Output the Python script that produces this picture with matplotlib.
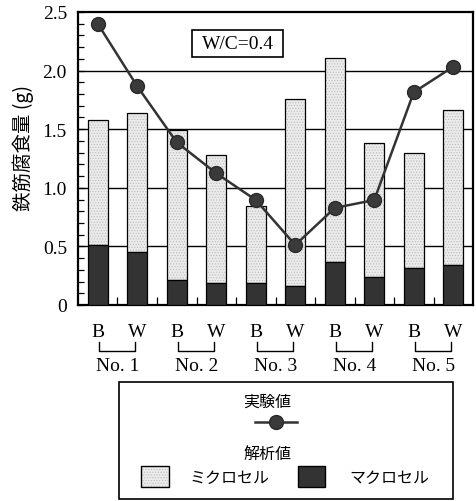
import matplotlib
matplotlib.use("Agg")
import matplotlib.pyplot as plt
import matplotlib.transforms as mtransforms
from matplotlib.patches import Rectangle
from matplotlib.lines import Line2D
import numpy as np

# Data
specimens = ["No. 1", "No. 2", "No. 3", "No. 4", "No. 5"]
bar_labels = ["B", "W", "B", "W", "B", "W", "B", "W", "B", "W"]
total_corrosion = [1.58, 1.635, 1.49, 1.277, 0.847, 1.758, 2.107, 1.38, 1.294, 1.664]
macrocell = [0.51, 0.455, 0.213, 0.19, 0.188, 0.165, 0.364, 0.236, 0.318, 0.344]
measured = [2.40, 1.866, 1.388, 1.124, 0.896, 0.512, 0.828, 0.896, 1.815, 2.033]
y_ticks = [0, 0.5, 1.0, 1.5, 2.0, 2.5]
y_tick_labels = ["0", "0.5", "1.0", "1.5", "2.0", "2.5"]

SERIF = ["Liberation Serif", "DejaVu Serif"]
CJK = ["Noto Sans CJK JP", "DejaVu Sans"]
LIGHT = "#ebebeb"
DOTS = "#bdbdbd"
DARK = "#333333"

plt.rcParams["hatch.linewidth"] = 0.5

W, H = 477, 502
fig = plt.figure(figsize=(W / 100, H / 100), dpi=100)
ax = fig.add_axes([78 / W, 1 - 306 / H, 395 / W, 293 / H])

x = np.arange(len(bar_labels))
microcell = [t - m for t, m in zip(total_corrosion, macrocell)]

# stippled microcell fill, then outlines on top
ax.bar(x, microcell, bottom=macrocell, width=0.5, color=LIGHT, edgecolor=DOTS,
       linewidth=0, hatch="......", zorder=3)
ax.bar(x, microcell, bottom=macrocell, width=0.5, fill=False, edgecolor="black",
       linewidth=0.9, zorder=3.5)
ax.bar(x, macrocell, width=0.5, color=DARK, edgecolor="black", linewidth=0.9, zorder=3.5)
ax.plot(x, measured, color=DARK, linewidth=1.8, marker="o", markersize=10,
        markerfacecolor="#3a3a3a", markeredgecolor="#2a2a2a", zorder=5)

ax.set_xlim(-0.5, len(bar_labels) - 0.5)
ax.set_ylim(0, 2.5)
for gy in [0.5, 1.0, 1.5, 2.0]:
    ax.axhline(gy, color="black", linewidth=1.0, zorder=1)

ax.set_yticks(y_ticks)
ax.set_yticklabels(y_tick_labels, fontfamily=SERIF, fontsize=14)
ax.set_yticks(np.arange(0, 2.51, 0.1), minor=True)
ax.tick_params(axis="y", which="both", direction="in", length=4, width=0.9, pad=8)

ax.set_xticks(x)
ax.set_xticklabels(bar_labels, fontfamily=SERIF, fontsize=14)
ax.set_xticks(np.arange(0.5, len(bar_labels) - 0.5, 1), minor=True)
ax.tick_params(axis="x", which="major", length=0, pad=13)
ax.tick_params(axis="x", which="minor", direction="in", length=6, width=0.9)

for s in ax.spines.values():
    s.set_linewidth(1.6)

fig.text(23 / W, 1 - 148 / H, "鉄筋腐食量 (g)", rotation=90, ha="center", va="center",
         fontfamily=CJK, fontsize=14)

# W/C box
ax.add_patch(Rectangle((0.2886, 0.8464), 0.2304, 0.0922, transform=ax.transAxes,
                       facecolor="white", edgecolor="black", linewidth=1.2, zorder=6))
ax.text(0.404, 0.892, "W/C=0.4", transform=ax.transAxes, ha="center", va="center",
        fontfamily=SERIF, fontsize=14, zorder=7)

# Specimen brackets under each B/W pair
trans = mtransforms.blended_transform_factory(ax.transData, ax.transAxes)
for i, name in enumerate(specimens):
    x0, x1 = 2 * i + 0.03, 2 * i + 0.95
    ax.add_line(Line2D([x0, x0, x1, x1], [-0.126, -0.157, -0.157, -0.126],
                       transform=trans, color="black", linewidth=1.0, clip_on=False))
    ax.text(2 * i + 0.5, -0.208, name, transform=trans, ha="center", va="center",
            fontfamily=SERIF, fontsize=14)

# Legend panel
fig.add_artist(Rectangle((119 / W, 1 - 500 / H), 334 / W, 117 / H, transform=fig.transFigure,
                         facecolor="white", edgecolor="black", linewidth=1.2))
fig.text(267.5 / W, 1 - 402 / H, "実験値", ha="center", va="center", fontfamily=CJK, fontsize=11.5)
fig.add_artist(Line2D([255 / W, 297 / W], [1 - 423 / H, 1 - 423 / H], transform=fig.transFigure,
                      color=DARK, linewidth=1.8))
fig.add_artist(Line2D([276 / W], [1 - 423 / H], transform=fig.transFigure, marker="o",
                      markersize=10, markerfacecolor="#3a3a3a", markeredgecolor="#2a2a2a",
                      linestyle="none"))
fig.text(267.5 / W, 1 - 454 / H, "解析値", ha="center", va="center", fontfamily=CJK, fontsize=11.5)
fig.add_artist(Rectangle((141 / W, 1 - 488 / H), 28 / W, 21 / H, transform=fig.transFigure,
                         facecolor=LIGHT, edgecolor=DOTS, hatch="......", linewidth=0))
fig.add_artist(Rectangle((141 / W, 1 - 488 / H), 28 / W, 21 / H, transform=fig.transFigure,
                         fill=False, edgecolor="black", linewidth=1.0))
fig.text(230 / W, 1 - 478 / H, "ミクロセル", ha="center", va="center", fontfamily=CJK,
         fontsize=11.5)
fig.add_artist(Rectangle((298 / W, 1 - 488 / H), 27 / W, 21 / H, transform=fig.transFigure,
                         facecolor=DARK, edgecolor="black", linewidth=1.0))
fig.text(389 / W, 1 - 478 / H, "マクロセル", ha="center", va="center", fontfamily=CJK,
         fontsize=11.5)

fig.savefig("out.png", dpi=100, facecolor="white")
